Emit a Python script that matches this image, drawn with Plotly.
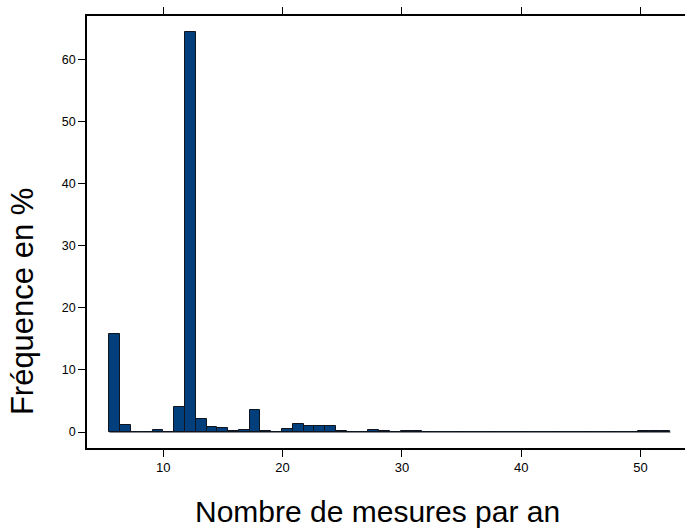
import numpy as np
import plotly.graph_objects as go

# Histogram of yearly measurement counts: 52 equal-width bins between 5.5 and 52.5
bin_start = 5.5
bin_end = 52.5
freq_pct = [
    15.8, 1.2, 0.0, 0.0, 0.25, 0.0, 4.0, 64.5, 2.1, 0.85,
    0.65, 0.2, 0.35, 3.55, 0.1, 0.0, 0.5, 1.35, 0.95, 0.95,
    0.95, 0.2, 0.0, 0.05, 0.35, 0.2, 0.0, 0.1, 0.1, 0.0,
    0.0, 0.0, 0.0, 0.0, 0.0, 0.0, 0.0, 0.0, 0.0, 0.0,
    0.0, 0.0, 0.0, 0.0, 0.0, 0.0, 0.0, 0.0, 0.0, 0.1,
    0.1, 0.1,
]
x_ticks = [10, 20, 30, 40, 50]
y_ticks = [0, 10, 20, 30, 40, 50, 60]

n_bins = len(freq_pct)
edges = np.linspace(bin_start, bin_end, n_bins + 1)
centers = (edges[:-1] + edges[1:]) / 2
width = edges[1] - edges[0]

# lattice-style padding of 4% around the data range
span = bin_end - bin_start
ymax = max(freq_pct)
x_lo = bin_start - 0.04 * span
y_lo = -0.04 * ymax
y_hi = ymax + 0.04 * ymax

fill = "rgb(0,62,124)"
edge = "rgb(15,20,30)"

fig = go.Figure()
# baseline drawn under the empty bins
fig.add_trace(go.Scatter(
    x=[edges[0], edges[-1]], y=[0, 0], mode="lines",
    line=dict(color=edge, width=1.2), hoverinfo="skip", showlegend=False,
))
fig.add_trace(go.Bar(
    x=centers, y=freq_pct, width=width,
    marker=dict(color=fill, line=dict(color=edge, width=1)),
    showlegend=False,
))

font_family = "Liberation Sans, Arial, sans-serif"
fig.update_layout(
    width=685, height=529,
    margin=dict(l=87, r=0, t=16, b=81),
    plot_bgcolor="white", paper_bgcolor="white",
    bargap=0,
    font=dict(family=font_family, color="black"),
    xaxis=dict(
        range=[x_lo, 53.72], tickvals=x_ticks, ticks="outside", ticklen=7,
        tickwidth=1.4, tickcolor="black", showline=True, linecolor="black",
        linewidth=1.6, mirror="ticks", showgrid=False, zeroline=False,
        tickfont=dict(size=13, family=font_family),
    ),
    yaxis=dict(
        range=[y_lo, y_hi], tickvals=y_ticks, ticks="outside", ticklen=7,
        tickwidth=1.4, tickcolor="black", showline=True, linecolor="black",
        linewidth=1.6, mirror=False, showgrid=False, zeroline=False,
        tickfont=dict(size=12.5, family=font_family),
    ),
    annotations=[
        dict(text="Nombre de mesures par an", xref="paper", yref="paper",
             x=0.4866, y=-0.148, xanchor="center", yanchor="middle",
             showarrow=False, font=dict(size=30, family=font_family)),
        dict(text="Fréquence en %", xref="paper", yref="paper",
             x=-0.1087, y=0.34, xanchor="center", yanchor="middle",
             textangle=-90, showarrow=False,
             font=dict(size=31, family=font_family)),
    ],
)

fig.write_html("out.html")
